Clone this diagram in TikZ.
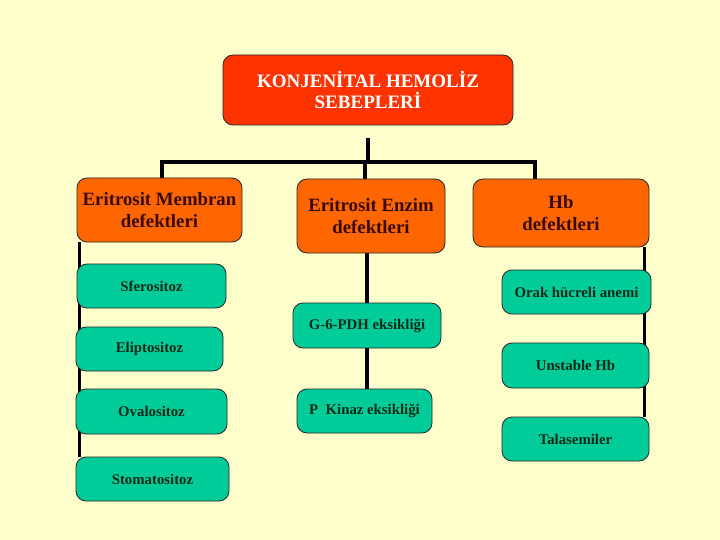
\documentclass[tikz,border=0pt]{standalone}
\usepackage{fontspec}
\setmainfont{Liberation Serif}
\usetikzlibrary{backgrounds}
\definecolor{bgcol}{HTML}{FFFFCC}
\definecolor{rootcol}{HTML}{FF3300}
\definecolor{midcol}{HTML}{FF6600}
\definecolor{leafcol}{HTML}{00CC99}
\definecolor{midtext}{HTML}{3A0A00}
\definecolor{leaftext}{HTML}{0A2A18}
\tikzset{
  box/.style={draw=black!85, line width=0.8pt, rounded corners=10pt, inner sep=2pt, align=center},
  rootbox/.style={box, fill=rootcol, text=white, font=\bfseries\fontsize{19}{21.5}\selectfont},
  midbox/.style={box, fill=midcol, text=midtext, font=\bfseries\fontsize{18.8}{22}\selectfont},
  leafbox/.style={box, fill=leafcol, text=leaftext, font=\bfseries\fontsize{14.8}{17}\selectfont, minimum height=44pt},
  conn/.style={draw=black, line width=3.2pt}
}
\begin{document}
\begin{tikzpicture}[x=1pt,y=-1pt]
\useasboundingbox (0,0) rectangle (720,540);
% nodes
\node[rootbox, minimum width=290pt, minimum height=70pt] (root) at (368,90) {KONJENİTAL HEMOLİZ\\SEBEPLERİ};
\node[midbox, minimum width=165pt, minimum height=64pt] (mem) at (159.5,210) {Eritrosit Membran\\defektleri};
\node[midbox, minimum width=148pt, minimum height=74pt] (enz) at (371,216) {Eritrosit Enzim\\defektleri};
\node[midbox, minimum width=176pt, minimum height=68pt] (hb) at (561,213) {Hb\\defektleri};
\node[leafbox, minimum width=149pt] (sfe) at (151.5,286) {Sferositoz};
\node[leafbox, minimum width=147pt] (eli) at (149.5,349) {Eliptositoz};
\node[leafbox, minimum width=151pt, minimum height=45pt] (ova) at (151.5,411.5) {Ovalositoz};
\node[leafbox, minimum width=153pt] (sto) at (152.5,479) {Stomatositoz};
\node[leafbox, minimum width=148pt, minimum height=45pt] (g6) at (367,325.5) {G-6-PDH eksikliği};
\node[leafbox, minimum width=135pt] (pk) at (364.5,411) {P~~Kinaz eksikliği};
\node[leafbox, minimum width=149pt] (orak) at (576.5,292) {Orak hücreli anemi};
\node[leafbox, minimum width=147pt, minimum height=45pt] (uns) at (575.5,365.5) {Unstable Hb};
\node[leafbox, minimum width=147pt] (tal) at (575.5,439) {Talasemiler};
% background and connectors
\begin{scope}[on background layer]
\fill[bgcol] (0,0) rectangle (720,540);
\coordinate (busL) at (162,162);
\coordinate (busR) at (535,162);
\draw[conn] ([yshift=-13pt]root.south) -- (root.south |- busL);
\draw[conn] (busL |- mem.north) -- (busL) -- (busR) -- (busR |- hb.north);
\draw[conn] ([xshift=-6pt]enz.north) -- ([xshift=-6pt]enz.north |- busL);
\draw[conn] ([xshift=2.5pt]mem.south west) -- ([xshift=2.5pt]mem.south west |- sto.north);
\draw[conn] (enz.south -| g6.north) -- (g6.north);
\draw[conn] (g6.south) -- (g6.south |- pk.north);
\draw[conn] ([xshift=-5pt]hb.south east) -- ([xshift=-5pt]hb.south east |- tal.north);
\end{scope}
\end{tikzpicture}
\end{document}
